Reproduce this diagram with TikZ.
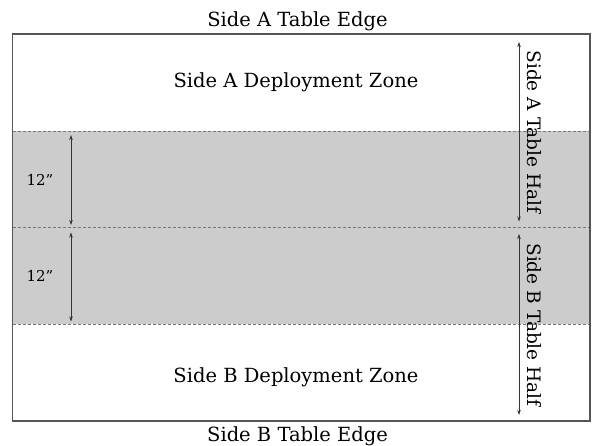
\documentclass[tikz,border=0pt]{standalone}
\usepackage{fontspec}
\setmainfont{DejaVu Serif}
\usetikzlibrary{arrows.meta}
\definecolor{zonegray}{HTML}{CCCCCC}
\definecolor{edgegray}{HTML}{555555}
\definecolor{dashgray}{HTML}{777777}
\definecolor{arrowgray}{HTML}{333333}
\tikzset{
  lbl/.style={font=\fontsize{19.5}{22}\selectfont, inner sep=0pt, anchor=base, text=black},
  sidelbl/.style={lbl, font=\fontsize{18.5}{21}\selectfont, rotate=-90},
  numlbl/.style={font=\fontsize{15}{17}\selectfont, inner sep=0pt, anchor=base, text=black},
  dimarrow/.style={arrowgray, line width=0.7pt, {Stealth[length=5pt,width=3.5pt]}-{Stealth[length=5pt,width=3.5pt]}},
  zoneline/.style={dashgray, line width=0.7pt, dash pattern=on 3pt off 2pt},
  tableedge/.style={edgegray, line width=1.3pt}
}
\begin{document}
\begin{tikzpicture}[x=1pt,y=-1pt]
\useasboundingbox (0,0) rectangle (592,446);
% gray middle zone
\fill[zonegray] (12.5,131.5) rectangle (590,324);
% dashed zone lines
\coordinate (l1w) at (12.5,131.5); \coordinate (l1e) at (590,131.5);
\coordinate (l2w) at (12.5,227.5); \coordinate (l2e) at (590,227.5);
\coordinate (l3w) at (12.5,324);   \coordinate (l3e) at (590,324);
\draw[zoneline] (l1w) -- (l1e);
\draw[zoneline] (l2w) -- (l2e);
\draw[zoneline] (l3w) -- (l3e);
% table border
\draw[tableedge] (12.5,34) rectangle (590,421);
% labels
\node[lbl] (edgeA) at (297.5,27) {Side A Table Edge};
\node[lbl] (edgeB) at (297.5,441.5) {Side B Table Edge};
\node[lbl] (depA) at (296,88) {Side A Deployment Zone};
\node[lbl] (depB) at (296,383) {Side B Deployment Zone};
\node[numlbl] (twelveA) at (40,185.7) {12”};
\node[numlbl] (twelveB) at (40,281.5) {12”};
\node[sidelbl] (halfA) at (527.5,132) {Side A Table Half};
\node[sidelbl] (halfB) at (527.5,325) {Side B Table Half};
% dimension arrows
\coordinate (a1t) at (71,135);   \coordinate (a1b) at (71,225);
\coordinate (a2t) at (71,232.5); \coordinate (a2b) at (71,321.5);
\coordinate (h1t) at (519,42);   \coordinate (h1b) at (519,221.5);
\coordinate (h2t) at (519,234);  \coordinate (h2b) at (519,415);
\draw[dimarrow] (a1t) -- (a1b);
\draw[dimarrow] (a2t) -- (a2b);
\draw[dimarrow] (h1t) -- (h1b);
\draw[dimarrow] (h2t) -- (h2b);
\end{tikzpicture}
\end{document}
